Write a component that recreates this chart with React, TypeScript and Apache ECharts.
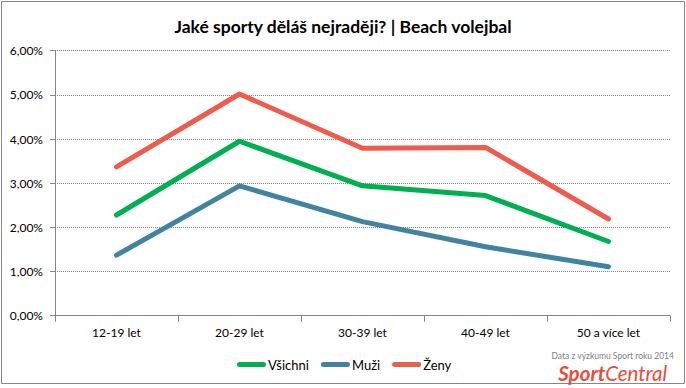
import React, { useEffect, useRef } from "react";
import * as echarts from "echarts";

const categories = ["12-19 let", "20-29 let", "30-39 let", "40-49 let", "50 a více let"];
const seriesNames = ["Všichni", "Muži", "Ženy"];
const vsichni = [2.28, 3.95, 2.94, 2.72, 1.68];
const muzi = [1.37, 2.94, 2.13, 1.56, 1.11];
const zeny = [3.37, 5.02, 3.79, 3.81, 2.19];
const seriesColors = ["#00B050", "#4184A0", "#EF5B4C"];
const yMin = 0;
const yMax = 6;
const yInterval = 1;
const titleText = "Jaké sporty děláš nejraději? | Beach volejbal";
const sourceText = "Data z výzkumu Sport roku 2014";

const FONT = "Lato, 'Noto Sans', sans-serif";
const LEGEND_ICON = "path://M2.5,0 H26.5 A2.5,2.5 0 0 1 26.5,5 H2.5 A2.5,2.5 0 0 1 2.5,0 Z";

export default function App() {
  const ref = useRef<HTMLDivElement>(null);
  useEffect(() => {
    if (!ref.current) return;
    const chart = echarts.init(ref.current, null, { renderer: "svg" });
    const values = [vsichni, muzi, zeny];
    chart.setOption({
      animation: false,
      backgroundColor: "#ffffff",
      title: {
        text: titleText,
        left: "center",
        top: 12,
        textStyle: { fontFamily: FONT, fontSize: 17.5, fontWeight: "bold", color: "#000" },
      },
      legend: {
        data: seriesNames,
        left: 232,
        top: 353,
        itemWidth: 29,
        itemHeight: 5,
        itemGap: 12,
        icon: LEGEND_ICON,
        textStyle: { fontFamily: FONT, fontSize: 13, color: "#000", padding: [0, 0, 0, -3] },
      },
      grid: { left: 55, right: 16, top: 50.7, bottom: 72.3, containLabel: false },
      xAxis: {
        type: "category",
        data: categories,
        boundaryGap: true,
        axisLine: { lineStyle: { color: "#868686", width: 1 } },
        axisTick: { show: true, length: 6, alignWithLabel: false, lineStyle: { color: "#868686" } },
        axisLabel: { fontFamily: FONT, fontSize: 12, color: "#000", margin: 11 },
        splitLine: { show: false },
      },
      yAxis: {
        type: "value",
        min: yMin,
        max: yMax,
        interval: yInterval,
        axisLine: { show: true, lineStyle: { color: "#868686", width: 1 } },
        axisTick: { show: true, length: 5, lineStyle: { color: "#868686" } },
        axisLabel: {
          fontFamily: FONT,
          fontSize: 12,
          color: "#000",
          margin: 12,
          formatter: (v: number) => v.toFixed(2).replace(".", ",") + "%",
        },
        splitLine: { show: true, lineStyle: { color: "#868686", type: [1, 1], width: 1 } },
      },
      series: seriesNames.map((name, i) => ({
        name,
        type: "line",
        data: values[i],
        showSymbol: false,
        symbol: "none",
        color: seriesColors[i],
        lineStyle: { width: 5, color: seriesColors[i], cap: "round", join: "round" },
      })),
      graphic: [
        {
          type: "rect",
          shape: { x: 1.5, y: 1.5, width: 683, height: 382 },
          style: { fill: "none", stroke: "#868686", lineWidth: 1 },
          silent: true,
        },
        {
          type: "text",
          x: 674,
          y: 356,
          style: {
            text: sourceText,
            fontFamily: FONT,
            fontSize: 8.5,
            fill: "#7f7f7f",
            align: "right",
            verticalAlign: "middle",
          },
        },
        {
          type: "text",
          x: 667,
          y: 373,
          style: {
            text: "{a|Sport}{b|Central}",
            align: "right",
            verticalAlign: "middle",
            rich: {
              a: { fontFamily: FONT, fontSize: 20.5, fontWeight: "bold", fontStyle: "italic", fill: "#EE4A3C", color: "#EE4A3C" },
              b: { fontFamily: FONT, fontSize: 20.5, fontWeight: "normal", fontStyle: "italic", fill: "#EE4A3C", color: "#EE4A3C" },
            },
          },
        },
      ],
    });
    return () => chart.dispose();
  }, []);
  return (
    <div
      ref={ref}
      style={{ position: "fixed", left: 0, top: 0, width: 686, height: 388 }}
    />
  );
}
